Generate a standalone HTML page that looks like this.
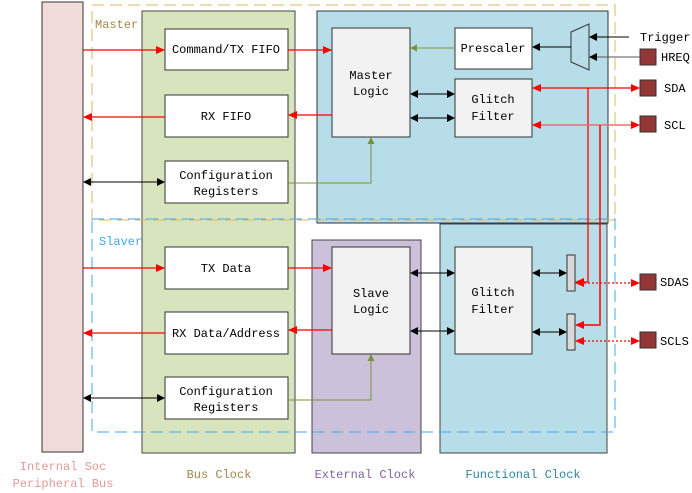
<!DOCTYPE html>
<html><head><style>body{margin:0;background:#fff}svg{display:block}text{font-family:"Liberation Mono",monospace;font-size:12px}</style></head><body>
<svg width="692" height="493" viewBox="0 0 692 493" xmlns="http://www.w3.org/2000/svg">
<defs>
<marker id="ab" markerWidth="8" markerHeight="8" refX="7" refY="4" orient="auto-start-reverse" markerUnits="userSpaceOnUse"><path d="M0,0L8,4L0,8z" fill="#000"/></marker>
<marker id="ar" markerWidth="9" markerHeight="8" refX="8" refY="4" orient="auto-start-reverse" markerUnits="userSpaceOnUse"><path d="M0,0L9,4L0,8z" fill="#f00"/></marker>
<marker id="ag" markerWidth="7" markerHeight="7" refX="6" refY="3.5" orient="auto-start-reverse" markerUnits="userSpaceOnUse"><path d="M0,0L7,3.5L0,7z" fill="#77933c"/></marker>
</defs>
<rect x="42" y="2" width="41" height="450" fill="#f2dcdb" stroke="#333"/>
<rect x="142" y="11" width="153" height="442" fill="#d7e4bd" stroke="#444"/>
<rect x="317" y="11" width="291" height="212" fill="#b7dde8" stroke="#333"/>
<rect x="312" y="240" width="109" height="213" fill="#ccc1da" stroke="#444"/>
<rect x="440" y="224" width="167" height="229" fill="#b7dde8" stroke="#444"/>
<rect x="92" y="5" width="523" height="215" fill="none" stroke="#d8b860" stroke-dasharray="12,6"/>
<rect x="92" y="219" width="523" height="213" fill="none" stroke="#3fa9f5" stroke-dasharray="12,6"/>
<g fill="#f2f2f2" stroke="#333">
<rect x="165" y="29" width="123" height="41" fill="#fff"/>
<rect x="165" y="95" width="123" height="42" fill="#fff"/>
<rect x="165" y="161" width="123" height="42" fill="#fff"/>
<rect x="165" y="247" width="123" height="42" fill="#fff"/>
<rect x="165" y="312" width="123" height="42" fill="#fff"/>
<rect x="165" y="377" width="123" height="42" fill="#fff"/>
<rect x="332" y="28" width="78" height="109"/>
<rect x="455" y="28" width="77" height="41" fill="#fff"/>
<rect x="455" y="79" width="77" height="58"/>
<rect x="332" y="247" width="78" height="107"/>
<rect x="455" y="247" width="77" height="107"/>
<rect x="567" y="255" width="8" height="36" fill="#d9d9d9"/>
<rect x="567" y="314" width="8" height="36" fill="#d9d9d9"/>
</g>
<path d="M571,32L589,24L589,70L571,62Z" fill="none" stroke="#333"/>
<g fill="#943634" stroke="#333">
<rect x="640" y="49" width="16" height="16"/><rect x="640" y="80" width="16" height="16"/><rect x="640" y="116" width="16" height="16"/><rect x="640" y="274" width="16" height="16"/><rect x="640" y="332" width="16" height="16"/>
</g>
<g stroke="#f00" stroke-width="1.3" fill="none">
<line x1="83" y1="50" x2="164" y2="50" marker-end="url(#ar)"/>
<line x1="165" y1="117" x2="84" y2="117" marker-end="url(#ar)"/>
<line x1="83" y1="268" x2="164" y2="268" marker-end="url(#ar)"/>
<line x1="165" y1="333" x2="84" y2="333" marker-end="url(#ar)"/>
<line x1="288" y1="50" x2="331" y2="50" marker-end="url(#ar)"/>
<line x1="332" y1="115" x2="289" y2="115" marker-end="url(#ar)"/>
<line x1="288" y1="268" x2="331" y2="268" marker-end="url(#ar)"/>
<line x1="332" y1="330" x2="289" y2="330" marker-end="url(#ar)"/>
<line x1="533" y1="88" x2="639" y2="88" marker-start="url(#ar)" marker-end="url(#ar)"/>
<polyline points="588,88 588,282 576,282" marker-end="url(#ar)"/>
<line x1="576" y1="283" x2="639" y2="283" stroke-dasharray="2,2" marker-start="url(#ar)" marker-end="url(#ar)"/>
<line x1="576" y1="341" x2="639" y2="341" stroke-dasharray="2,2" marker-start="url(#ar)" marker-end="url(#ar)"/>
</g>
<g stroke="#e87070" stroke-width="1.5" fill="none">
<line x1="533" y1="125" x2="639" y2="125" marker-start="url(#ar)" marker-end="url(#ar)"/>
<polyline points="600,125 600,325 576,325" stroke="#f00" marker-end="url(#ar)"/>
</g>
<g stroke="#000" fill="none">
<line x1="411" y1="94" x2="454" y2="94" marker-start="url(#ab)" marker-end="url(#ab)"/>
<line x1="411" y1="118" x2="454" y2="118" marker-start="url(#ab)" marker-end="url(#ab)"/>
<line x1="411" y1="273" x2="454" y2="273" marker-start="url(#ab)" marker-end="url(#ab)"/>
<line x1="411" y1="331" x2="454" y2="331" marker-start="url(#ab)" marker-end="url(#ab)"/>
<line x1="533" y1="273" x2="566" y2="273" marker-start="url(#ab)" marker-end="url(#ab)"/>
<line x1="533" y1="332" x2="566" y2="332" marker-start="url(#ab)" marker-end="url(#ab)"/>
<line x1="84" y1="182" x2="164" y2="182" marker-start="url(#ab)" marker-end="url(#ab)"/>
<line x1="84" y1="398" x2="164" y2="398" marker-start="url(#ab)" marker-end="url(#ab)"/>
<line x1="571" y1="47" x2="533" y2="47" marker-end="url(#ab)"/>
<line x1="629" y1="37" x2="590" y2="37" marker-end="url(#ab)"/>
<line x1="640" y1="57" x2="590" y2="57" stroke="#555" marker-end="url(#ab)"/>
</g>
<g stroke="#77933c" fill="none">
<line x1="455" y1="48" x2="411" y2="48" marker-end="url(#ag)"/>
<polyline points="288,183 371,183 371,138" marker-end="url(#ag)"/>
<polyline points="288,400 371,400 371,355" marker-end="url(#ag)"/>
</g>
<g text-anchor="middle" fill="#000">
<text x="226" y="53">Command/TX FIFO</text>
<text x="226" y="120">RX FIFO</text>
<text x="226" y="179">Configuration</text><text x="226" y="195">Registers</text>
<text x="226" y="272">TX Data</text>
<text x="226" y="337">RX Data/Address</text>
<text x="226" y="395">Configuration</text><text x="226" y="411">Registers</text>
<text x="371" y="79">Master</text><text x="371" y="95">Logic</text>
<text x="493" y="52">Prescaler</text>
<text x="493" y="103">Glitch</text><text x="493" y="120">Filter</text>
<text x="371" y="297">Slave</text><text x="371" y="313">Logic</text>
<text x="493" y="296">Glitch</text><text x="493" y="313">Filter</text>
<text x="63" y="470" fill="#e39a9a">Internal Soc</text><text x="63" y="487" fill="#e39a9a">Peripheral Bus</text>
<text x="219" y="478" fill="#a0884a">Bus Clock</text>
<text x="365" y="478" fill="#8064a2">External Clock</text>
<text x="523" y="478" fill="#31859c">Functional Clock</text>
</g>
<text x="95" y="28" fill="#a0884a">Master</text>
<text x="99" y="245" fill="#3fa9f5">Slaver</text>
<g font-size="11">
<text x="640" y="41">Trigger</text>
<text x="661" y="61">HREQ</text>
<text x="664" y="92">SDA</text>
<text x="664" y="129">SCL</text>
<text x="660" y="286">SDAS</text>
<text x="660" y="345">SCLS</text>
</g>
</svg>
</body></html>
